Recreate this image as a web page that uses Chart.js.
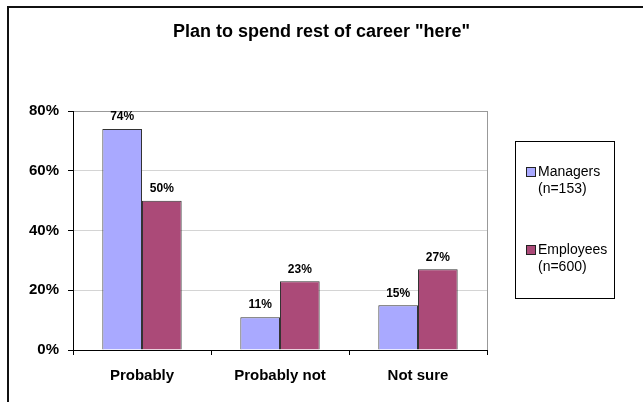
<!DOCTYPE html>
<html>
<head>
<meta charset="utf-8">
<script src="https://cdn.jsdelivr.net/npm/chart.js@4/dist/chart.umd.min.js"></script>
<style>
html,body{margin:0;padding:0;background:#fff;}
canvas{display:block;}
</style>
</head>
<body>
<canvas id="c" width="643" height="402"></canvas>
<script>
const categories = ["Probably", "Probably not", "Not sure"];
const managers = [74, 11, 15];
const employees = [50, 23, 27];
const seriesNames = [["Managers", "(n=153)"], ["Employees", "(n=600)"]];
const yTicks = [0, 20, 40, 60, 80];
const titleText = 'Plan to spend rest of career "here"';

const FONT = "Arial, 'Liberation Sans', sans-serif";
Chart.defaults.font.family = FONT;
Chart.defaults.color = '#000';

const framePlugin = {
  id: 'frame',
  beforeDraw(chart) {
    const ctx = chart.ctx;
    ctx.save();
    ctx.fillStyle = '#fff';
    ctx.fillRect(0, 0, chart.width, chart.height);
    ctx.fillStyle = '#111';
    ctx.fillRect(7, 6, chart.width - 7, 2);
    ctx.fillRect(7, 6, 2, chart.height - 6);
    // title
    ctx.fillStyle = '#000';
    ctx.font = 'bold 18px ' + FONT;
    ctx.textAlign = 'center';
    ctx.textBaseline = 'middle';
    ctx.fillText(titleText, chart.width / 2, 32);
    ctx.restore();
  },
  afterDatasetsDraw(chart) {
    const ctx = chart.ctx;
    const a = chart.chartArea;
    ctx.save();
    // plot area right border
    ctx.strokeStyle = '#999';
    ctx.lineWidth = 1;
    ctx.beginPath();
    ctx.moveTo(Math.round(a.right) + 0.5, a.top);
    ctx.lineTo(Math.round(a.right) + 0.5, a.bottom);
    ctx.stroke();
    // value labels
    ctx.fillStyle = '#000';
    ctx.font = 'bold 12px ' + FONT;
    ctx.textAlign = 'center';
    ctx.textBaseline = 'bottom';
    chart.data.datasets.forEach((ds, i) => {
      const meta = chart.getDatasetMeta(i);
      meta.data.forEach((bar, j) => {
        ctx.fillText(ds.data[j] + '%', bar.x, bar.y - 6);
      });
    });
    // legend
    const lx = 515, ly = 141, lw = 99, lh = 157;
    ctx.strokeStyle = '#000';
    ctx.strokeRect(lx + 0.5, ly + 0.5, lw, lh);
    ctx.font = '14px ' + FONT;
    ctx.textAlign = 'left';
    ctx.textBaseline = 'middle';
    const rows = [172, 250];
    chart.data.datasets.forEach((ds, i) => {
      const y = rows[i];
      ctx.fillStyle = ds.backgroundColor;
      ctx.fillRect(527, y - 4, 8, 8);
      ctx.strokeStyle = '#222';
      ctx.strokeRect(526.5, y - 4.5, 9, 9);
      ctx.fillStyle = '#000';
      ctx.fillText(seriesNames[i][0], 538, y);
      ctx.fillText(seriesNames[i][1], 538, y + 17);
    });
    ctx.restore();
  }
};

new Chart(document.getElementById('c'), {
  type: 'bar',
  data: {
    labels: categories,
    datasets: [
      { label: seriesNames[0].join(' '), data: managers, backgroundColor: '#A9A9FF', borderColor: '#333', borderWidth: 1 },
      { label: seriesNames[1].join(' '), data: employees, backgroundColor: '#AB4A78', borderColor: '#333', borderWidth: 1 }
    ]
  },
  options: {
    responsive: false,
    animation: false,
    devicePixelRatio: 1,
    layout: { padding: { left: 0, right: 156, top: 111, bottom: 0 } },
    datasets: { bar: { barPercentage: 1.0, categoryPercentage: 0.575 } },
    plugins: {
      legend: { display: false },
      tooltip: { enabled: false },
      title: { display: false }
    },
    scales: {
      x: {
        afterFit(scale) { scale.height = 52; },
        grid: { display: true, drawOnChartArea: false, offset: true, tickLength: 5, tickColor: '#000' },
        border: { color: '#000', width: 1 },
        ticks: { font: { size: 15, weight: 'bold' }, color: '#000', padding: 12, maxRotation: 0 }
      },
      y: {
        min: 0, max: 80,
        afterFit(scale) { scale.width = 73; },
        afterBuildTicks(scale) { scale.ticks = yTicks.map(v => ({ value: v })); },
        grid: {
          tickLength: 5,
          tickColor: '#000',
          color: ctx => ctx.tick && ctx.tick.value === 80 ? '#999' : (ctx.tick && ctx.tick.value === 0 ? 'rgba(0,0,0,0)' : '#d4d4d4')
        },
        border: { color: '#000', width: 1 },
        ticks: { font: { size: 15, weight: 'bold' }, color: '#000', padding: 9, callback: v => v + '%' }
      }
    }
  },
  plugins: [framePlugin]
});
</script>
</body>
</html>
